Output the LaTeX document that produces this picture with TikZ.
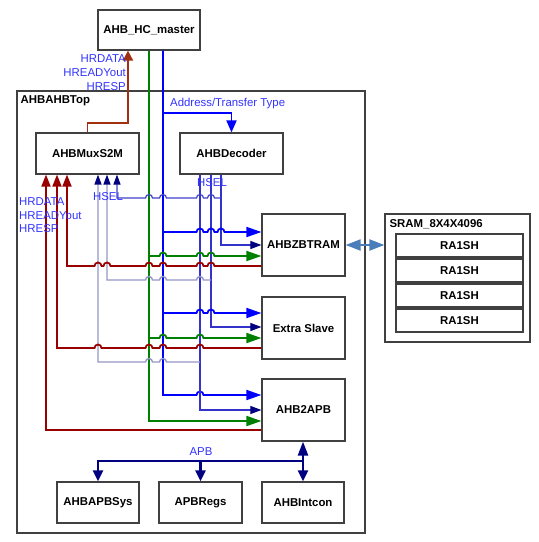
\documentclass[tikz,border=0pt]{standalone}
\usepackage{fontspec}
\setmainfont{Liberation Sans}
\usetikzlibrary{arrows.meta}
\definecolor{boxgray}{RGB}{64,64,64}
\definecolor{lblue}{RGB}{51,51,255}
\definecolor{bblue}{RGB}{0,0,255}
\definecolor{bgreen}{RGB}{0,128,0}
\definecolor{bred}{RGB}{153,0,0}
\definecolor{mred}{RGB}{160,48,16}
\definecolor{hselc}{RGB}{51,51,204}
\definecolor{navyc}{RGB}{0,0,128}
\definecolor{lav}{RGB}{150,150,200}
\definecolor{steel}{RGB}{74,126,187}
\newcommand{\hopx}[2]{-- (#1-3.5,#2) arc[start angle=180,end angle=360,radius=3.5]}
\tikzset{
  box/.style={draw=boxgray, line width=1.2pt, fill=white, font=\fontsize{11.4}{13}\selectfont\bfseries, inner sep=0pt},
  lbl/.style={text=lblue, font=\fontsize{11.4}{13}\selectfont, inner sep=0pt},
  bbus/.style={draw=bblue, line width=1.8pt},
  gbus/.style={draw=bgreen, line width=1.8pt},
  rbus/.style={draw=bred, line width=1.8pt},
  hs/.style={draw=hselc, line width=1.1pt},
  lv/.style={draw=lav, line width=1.4pt},
  apb/.style={draw=navyc, line width=2.4pt},
  bigtip/.style={-{Triangle[length=15pt,width=10pt]}},
  navytip/.style={-{Triangle[length=11pt,width=8pt,color=navyc]}},
}
\begin{document}
\begin{tikzpicture}[x=1pt,y=1pt,yscale=-1]
\path[use as bounding box, fill=white] (0,0) rectangle (539,542);

% outer boxes
\node[box, minimum width=348pt, minimum height=442pt] (top) at (191,312) {};
\node[box, minimum width=145pt, minimum height=128pt] (sram) at (457.5,278) {};

% blocks
\node[box, minimum width=102pt, minimum height=40pt] (master) at (149,30) {AHB\_HC\_master};
\node[box, minimum width=103pt, minimum height=41pt] (mux) at (87.5,153.5) {AHBMuxS2M};
\node[box, minimum width=103pt, minimum height=41pt] (dec) at (231.5,153.5) {AHBDecoder};
\node[box, minimum width=83pt, minimum height=62pt] (zbt) at (303.5,245) {AHBZBTRAM};
\node[box, minimum width=83pt, minimum height=62pt] (extra) at (303.5,328) {Extra Slave};
\node[box, minimum width=83pt, minimum height=62pt] (a2apb) at (303.5,410) {AHB2APB};
\node[box, minimum width=82pt, minimum height=41pt] (apbsys) at (98,502.5) {AHBAPBSys};
\node[box, minimum width=83pt, minimum height=41pt] (apbregs) at (200.5,502.5) {APBRegs};
\node[box, minimum width=82pt, minimum height=41pt] (intcon) at (303,502.5) {AHBIntcon};
\node[box, minimum width=127pt, minimum height=23pt] (ra1) at (459.5,245.5) {RA1SH};
\node[box, minimum width=127pt, minimum height=23pt] (ra2) at (459.5,270.5) {RA1SH};
\node[box, minimum width=127pt, minimum height=23pt] (ra3) at (459.5,295.5) {RA1SH};
\node[box, minimum width=127pt, minimum height=23pt] (ra4) at (459.5,320.5) {RA1SH};

\node[box, draw=none, fill=none, anchor=west] (toplbl) at (20,101) {AHBAHBTop};
\node[box, draw=none, fill=none, anchor=west] (sramlbl) at (389,224) {SRAM\_8X4X4096};

% mux -> master
\draw[draw=mred, line width=1.8pt, -{Triangle[length=10pt,width=10pt]}] (mux.north) -- (87.5,123) -- (128,123) -- (master.south -| 128,0);

% master verticals
\draw[gbus, bigtip] (master.south -| 149,0) -- (149,421) -- (a2apb.west |- 0,421);
\draw[bbus, bigtip] (master.south -| 163,0) -- (163,395) \hopx{200}{395} -- (a2apb.west |- 0,395);
\draw[bbus, -{Triangle[length=12pt,width=10pt]}] (163,113) -- (231.5,113) -- (dec.north);

% decoder HSEL verticals
\draw[hs, navytip] (dec.south -| 221,0) -- (221,245) -- (zbt.west);
\draw[hs, navytip] (dec.south -| 211,0) -- (211,327) -- (extra.west |- 0,327);
\draw[hs, navytip] (dec.south -| 200,0) -- (200,410) -- (a2apb.west |- 0,410);

% HSEL feedback to mux
\draw[draw=hselc!85!lav, line width=1.2pt, {Triangle[length=10pt,width=7pt,color=navyc]}-] (mux.south -| 117,0) -- (117,198) \hopx{149}{198} \hopx{163}{198} \hopx{200}{198} \hopx{211}{198} -- (221,198);
\draw[lv, {Triangle[length=10pt,width=7pt,color=navyc]}-] (mux.south -| 107,0) -- (107,280) \hopx{149}{280} \hopx{163}{280} \hopx{200}{280} -- (211,280);
\draw[lv, {Triangle[length=10pt,width=7pt,color=navyc]}-] (mux.south -| 98,0) -- (98,362) \hopx{149}{362} \hopx{163}{362} -- (200,362);

% to AHBZBTRAM
\draw[bbus, bigtip] (163,232) \hopx{200}{232} \hopx{211}{232} \hopx{221}{232} -- (zbt.west |- 0,232);
\draw[gbus, bigtip] (149,256) \hopx{163}{256} \hopx{200}{256} \hopx{211}{256} -- (zbt.west |- 0,256);
\draw[rbus, {Triangle[length=12pt,width=9pt]}-] (mux.south -| 67,0) -- (67,266) \hopx{98}{266} \hopx{107}{266} \hopx{149}{266} \hopx{163}{266} \hopx{200}{266} \hopx{211}{266} -- (zbt.west |- 0,266);

% to Extra Slave
\draw[bbus, bigtip] (163,313) \hopx{200}{313} \hopx{211}{313} -- (extra.west |- 0,313);
\draw[gbus, bigtip] (149,338) \hopx{163}{338} \hopx{200}{338} -- (extra.west |- 0,338);
\draw[rbus, {Triangle[length=12pt,width=9pt]}-] (mux.south -| 57,0) -- (57,348) \hopx{98}{348} \hopx{149}{348} \hopx{163}{348} \hopx{200}{348} -- (extra.west |- 0,348);

% to AHB2APB
\draw[rbus, {Triangle[length=12pt,width=9pt]}-] (mux.south -| 46,0) -- (46,430) -- (a2apb.west |- 0,430);

% SRAM link
\draw[draw=steel, line width=2pt, {Triangle[length=15pt,width=11pt]}-{Triangle[length=15pt,width=11pt]}] (zbt.east) -- (sram.west |- zbt.east);

% APB bus
\draw[apb, {Triangle[length=11pt,width=10pt]}-{Triangle[length=11pt,width=10pt]}] (apbsys.north) -- (98,461) -- (303,461) -- (intcon.north);
\draw[apb, -{Triangle[length=11pt,width=10pt]}] (200.5,461) -- (apbregs.north);
\draw[apb, -{Triangle[length=14pt,width=10pt]}] (303,461) -- (a2apb.south -| 303,0);

% labels
\node[lbl, anchor=east] (l1) at (126,59) {HRDATA};
\node[lbl, anchor=east] (l2) at (126,73) {HREADYout};
\node[lbl, anchor=east] (l3) at (126,87) {HRESP};
\node[lbl, anchor=west] (l4) at (19,202) {HRDATA};
\node[lbl, anchor=west] (l5) at (19,216) {HREADYout};
\node[lbl, anchor=west] (l6) at (19,229) {HRESP};
\node[lbl] (l7) at (108,197) {HSEL};
\node[lbl] (l8) at (212,183) {HSEL};
\node[lbl, anchor=west] (l9) at (170,104) {Address/Transfer Type};
\node[lbl] (l10) at (201,452) {APB};
\end{tikzpicture}
\end{document}
